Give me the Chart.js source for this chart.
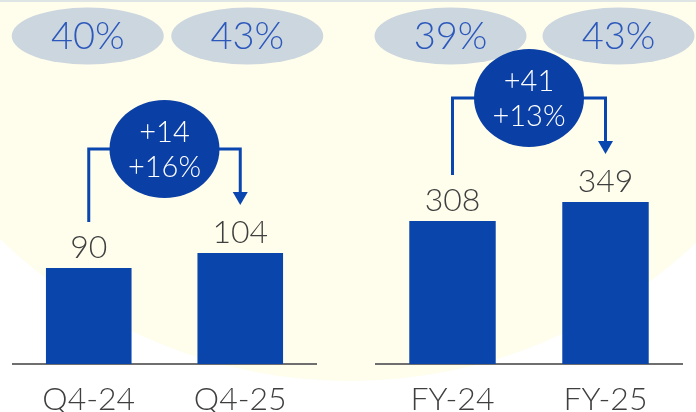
<!DOCTYPE html>
<html><head><meta charset="utf-8">
<script src="https://cdn.jsdelivr.net/npm/chart.js@4.4.0/dist/chart.umd.min.js"></script>
<style>
html,body{margin:0;padding:0;}
body{width:696px;height:412px;overflow:hidden;position:relative;background:#ffffff;}
#bg{position:absolute;left:-152px;top:-623px;width:1004px;height:1004px;border-radius:50%;background:#fffdeb;}
#topline{position:absolute;left:0;top:0;width:696px;height:2px;background:#dfe4e4;}
canvas{position:absolute;top:0;}
#c1{left:0;} #c2{left:348px;}
</style></head><body>
<div id="bg"></div><div id="topline"></div>
<canvas id="c1" width="348" height="412"></canvas>
<canvas id="c2" width="348" height="412"></canvas>
<script>
// ---- data ----
const quarterLabels = ['Q4-24', 'Q4-25'];
const quarterValues = [90, 104];
const quarterMargins = ['40%', '43%'];
const quarterDelta = ['+14', '+16%'];

const yearLabels = ['FY-24', 'FY-25'];
const yearValues = [308, 349];
const yearMargins = ['39%', '43%'];
const yearDelta = ['+41', '+13%'];

// ---- style ----
const FONT = 'Lato, "Open Sans", sans-serif';
const BAR_BLUE = '#0a45ac';
const LINE_BLUE = '#0a46b0';
const CIRCLE_BLUE = '#0a3fa5';
const TEXT_GREY = '#3f3f3f';

const overlay = {
  id: 'overlay',
  afterDatasetsDraw(chart, args, o) {
    const ctx = chart.ctx;
    const bars = chart.getDatasetMeta(0).data;
    const values = chart.data.datasets[0].data;
    ctx.save();
    // value labels
    ctx.font = '300 32px ' + FONT;
    ctx.fillStyle = TEXT_GREY;
    ctx.textAlign = 'center';
    ctx.textBaseline = 'alphabetic';
    bars.forEach((b, i) => ctx.fillText(String(values[i]), b.x, b.y - 10));
    // margin ellipses
    bars.forEach((b, i) => {
      const ex = b.x + o.ellipseShift[i];
      ctx.beginPath();
      ctx.ellipse(ex, 36, 76, 28.5, 0, 0, Math.PI * 2);
      ctx.fillStyle = '#cbd6df';
      ctx.fill();
      ctx.font = '300 38px ' + FONT;
      ctx.fillStyle = '#2c58bb';
      ctx.textBaseline = 'middle';
      ctx.fillText(o.margins[i], ex, 37);
    });
    // bracket
    const top = Math.min(bars[0].y, bars[1].y);
    const cy = top - 104;
    const cx = (bars[0].x + bars[1].x) / 2;
    const tip = bars[1].y - 48;
    ctx.strokeStyle = LINE_BLUE;
    ctx.lineWidth = 3;
    ctx.beginPath();
    ctx.moveTo(bars[0].x, bars[0].y - 46);
    ctx.lineTo(bars[0].x, cy);
    ctx.lineTo(bars[1].x, cy);
    ctx.lineTo(bars[1].x, tip - 10);
    ctx.stroke();
    ctx.beginPath();
    ctx.moveTo(bars[1].x - 7.5, tip - 13);
    ctx.lineTo(bars[1].x + 7.5, tip - 13);
    ctx.lineTo(bars[1].x, tip);
    ctx.closePath();
    ctx.fillStyle = LINE_BLUE;
    ctx.fill();
    // delta circle
    ctx.beginPath();
    ctx.ellipse(cx, cy, 55, 49, 0, 0, Math.PI * 2);
    ctx.fillStyle = CIRCLE_BLUE;
    ctx.fill();
    ctx.font = '300 29px ' + FONT;
    ctx.fillStyle = '#ffffff';
    ctx.textBaseline = 'middle';
    ctx.fillText(o.delta[0], cx, cy - 16);
    ctx.fillText(o.delta[1], cx, cy + 19);
    ctx.restore();
  }
};

function makeChart(id, labels, values, margins, delta, yMax, pad, shift) {
  return new Chart(document.getElementById(id), {
    type: 'bar',
    data: {
      labels: labels,
      datasets: [{ data: values, backgroundColor: BAR_BLUE, barPercentage: 0.565, categoryPercentage: 1 }]
    },
    options: {
      responsive: false,
      animation: false,
      layout: { padding: { left: pad[0], right: pad[1], top: 0, bottom: 0 } },
      plugins: {
        legend: { display: false },
        tooltip: { enabled: false },
        overlay: { margins: margins, delta: delta, ellipseShift: shift }
      },
      scales: {
        x: {
          grid: { display: false, drawTicks: false },
          border: { display: true, color: '#6f6f6f', width: 2 },
          ticks: { color: TEXT_GREY, font: { family: FONT, size: 32, weight: '300' }, padding: 16 },
          afterFit(scale) { scale.height = 48; }
        },
        y: { display: false, min: 0, max: yMax }
      }
    },
    plugins: [overlay]
  });
}

makeChart('c1', quarterLabels, quarterValues, quarterMargins, quarterDelta, 341, [13, 32], [-1, 7]);
makeChart('c2', yearLabels, yearValues, yearMargins, yearDelta, 784, [28, 14], [-2, 13]);
</script>
</body></html>
